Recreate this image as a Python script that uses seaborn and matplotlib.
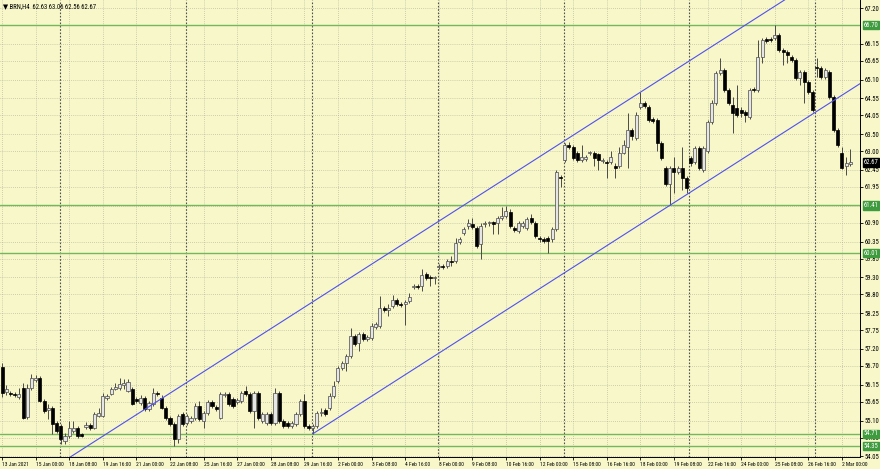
import matplotlib
matplotlib.use("Agg")
import matplotlib.pyplot as plt
import matplotlib.transforms as mtransforms
from matplotlib import font_manager
import numpy as np
import pandas as pd
import seaborn as sns

# BRN H4 candles, 13 Jan 2021 16:00 .. 2 Mar 2021
opens = [
    56.67, 55.93, 55.90, 55.88, 55.79, 56.05, 55.20, 56.05, 56.29, 56.35,
    55.67, 55.41, 55.47, 55.02, 54.94, 54.49, 54.64, 54.79, 54.88, 54.70,
    54.91, 54.96, 54.88, 55.23, 55.23, 55.76, 55.88, 56.02, 56.05, 56.14,
    55.96, 56.02, 55.73, 55.61, 55.76, 55.44, 55.58, 55.90, 55.76, 55.47,
    55.17, 54.99, 54.55, 55.29, 55.02, 55.08, 55.17, 55.52, 55.08, 55.32,
    55.64, 55.49, 55.17, 55.85, 55.88, 55.73, 55.64, 55.67, 55.96, 55.88,
    55.38, 55.90, 55.08, 55.02, 55.29, 55.02, 55.90, 55.08, 55.02, 54.94,
    54.99, 55.29, 55.67, 54.94, 54.88, 54.94, 55.32, 55.41, 55.47, 55.82,
    56.26, 56.64, 56.79, 56.99, 57.58, 57.38, 57.64, 57.49, 57.52, 57.85,
    57.88, 58.41, 58.35, 58.47, 58.64, 58.52, 58.52, 58.61, 59.02, 59.05,
    59.05, 59.41, 59.32, 59.29, 59.61, 59.64, 59.64, 59.79, 59.79, 60.35,
    60.61, 60.82, 60.85, 60.76, 60.29, 60.85, 60.88, 60.91, 60.88, 61.05,
    61.11, 61.23, 60.76, 60.67, 60.82, 60.76, 61.05, 60.88, 60.44, 60.41,
    60.44, 60.41, 60.73, 62.23, 62.73, 63.17, 63.11, 62.96, 62.73, 62.76,
    62.94, 62.96, 62.91, 62.70, 62.67, 62.67, 62.58, 62.58, 62.96, 63.11,
    63.61, 63.38, 64.29, 64.40, 64.29, 63.94, 63.91, 63.23, 62.52, 62.05,
    62.52, 62.38, 62.52, 62.20, 62.79, 62.67, 63.08, 62.44, 63.02, 63.85,
    64.40, 65.29, 65.38, 64.79, 64.35, 64.26, 64.20, 64.14, 63.99, 64.82,
    64.79, 65.76, 66.29, 66.29, 66.32, 66.41, 65.96, 65.91, 65.76, 65.67,
    65.14, 65.32, 65.02, 64.73, 65.46, 65.44, 65.17, 65.32, 64.58, 63.61,
    62.94, 62.58, 62.63,
]
highs = [
    56.79, 56.14, 55.96, 55.93, 56.05, 56.20, 56.17, 56.47, 56.44, 56.41,
    55.73, 55.58, 55.52, 55.08, 54.99, 54.73, 55.08, 55.08, 54.94, 54.73,
    55.05, 55.02, 55.35, 55.47, 55.90, 55.88, 56.08, 56.20, 56.35, 56.32,
    56.32, 56.08, 55.79, 55.85, 55.82, 55.67, 56.05, 55.96, 55.85, 55.52,
    55.23, 55.05, 55.29, 55.35, 55.29, 55.23, 55.61, 55.67, 55.38, 55.70,
    55.70, 55.55, 55.93, 55.93, 55.93, 55.79, 55.76, 55.96, 56.11, 55.93,
    55.96, 55.96, 55.35, 55.35, 55.35, 56.05, 55.96, 55.14, 55.08, 55.08,
    55.35, 55.73, 55.88, 54.99, 54.99, 55.38, 55.47, 55.47, 55.90, 56.26,
    56.70, 56.85, 57.05, 57.82, 57.64, 57.70, 57.70, 57.61, 57.96, 57.99,
    58.76, 58.47, 58.52, 58.79, 58.70, 58.58, 58.64, 58.85, 59.11, 59.11,
    59.55, 59.47, 59.38, 59.35, 59.70, 59.70, 59.85, 59.94, 60.44, 60.47,
    60.79, 61.02, 61.05, 60.82, 60.88, 60.94, 60.96, 60.96, 61.11, 61.35,
    61.38, 61.29, 60.82, 60.94, 60.94, 61.08, 61.17, 60.94, 60.50, 60.47,
    60.50, 60.79, 62.44, 62.29, 63.23, 63.26, 63.17, 63.02, 63.17, 62.88,
    63.02, 63.02, 62.96, 62.79, 62.73, 63.02, 62.64, 63.11, 63.32, 64.11,
    63.67, 64.14, 64.73, 64.46, 64.35, 64.00, 63.97, 63.29, 62.58, 62.58,
    62.82, 62.58, 63.11, 62.26, 62.85, 63.14, 63.14, 63.14, 63.91, 64.49,
    65.35, 65.73, 65.44, 64.85, 64.58, 64.94, 64.29, 64.20, 64.85, 64.88,
    66.26, 66.32, 66.35, 66.35, 66.70, 66.47, 66.02, 65.96, 65.82, 65.73,
    65.38, 65.38, 65.08, 64.79, 65.73, 65.49, 65.44, 65.38, 64.64, 63.67,
    63.11, 62.82, 63.06,
]
lows = [
    55.79, 55.85, 55.82, 55.79, 55.73, 55.14, 55.14, 55.99, 56.23, 55.64,
    55.32, 55.14, 54.70, 54.73, 54.42, 54.41, 54.58, 54.73, 54.58, 54.61,
    54.85, 54.82, 54.85, 55.20, 55.20, 55.70, 55.85, 55.99, 55.99, 56.02,
    55.93, 55.55, 55.61, 55.55, 55.38, 55.38, 55.52, 55.82, 55.44, 55.11,
    54.94, 54.35, 54.44, 54.94, 54.96, 55.02, 55.11, 55.08, 54.88, 55.26,
    55.47, 55.38, 55.14, 55.79, 55.52, 55.47, 55.58, 55.61, 55.82, 55.32,
    54.88, 55.11, 55.02, 54.96, 54.96, 54.96, 55.02, 54.88, 54.88, 54.88,
    54.94, 55.23, 54.88, 54.82, 54.71, 54.88, 55.23, 55.23, 55.41, 55.76,
    56.20, 56.58, 56.55, 56.94, 57.29, 57.14, 57.44, 57.44, 57.47, 57.79,
    57.82, 58.29, 58.17, 58.41, 58.47, 58.44, 57.91, 58.55, 58.97, 58.97,
    58.91, 59.23, 59.05, 59.11, 59.55, 59.55, 59.58, 59.64, 59.73, 60.29,
    60.55, 60.73, 60.73, 60.17, 59.85, 60.79, 60.82, 60.58, 60.58, 60.99,
    61.05, 60.76, 60.64, 60.61, 60.76, 60.70, 60.85, 60.44, 60.35, 60.32,
    60.01, 60.35, 60.67, 61.94, 62.67, 63.05, 62.73, 62.67, 62.67, 62.70,
    62.88, 62.58, 62.44, 62.64, 62.20, 62.61, 62.20, 62.52, 62.91, 62.50,
    63.32, 63.32, 64.23, 64.26, 63.85, 63.82, 63.02, 62.73, 61.99, 61.41,
    61.76, 62.32, 61.85, 61.76, 62.58, 62.61, 62.44, 62.38, 62.96, 63.79,
    64.35, 65.23, 64.73, 64.35, 63.52, 63.99, 63.99, 63.85, 63.94, 64.73,
    64.73, 65.58, 66.17, 66.20, 66.26, 65.91, 65.52, 65.58, 65.61, 65.08,
    64.94, 64.40, 64.67, 64.14, 65.17, 65.11, 65.11, 64.52, 63.55, 63.11,
    62.47, 62.29, 62.56,
]
closes = [
    55.90, 56.02, 55.88, 55.85, 55.88, 55.17, 56.05, 56.35, 56.35, 55.67,
    55.38, 55.47, 54.99, 54.79, 54.55, 54.64, 54.88, 54.88, 54.64, 54.64,
    54.96, 54.88, 55.29, 55.32, 55.82, 55.82, 56.02, 56.08, 56.17, 56.20,
    56.23, 55.58, 55.67, 55.76, 55.44, 55.61, 55.90, 55.88, 55.47, 55.17,
    54.99, 54.55, 55.23, 54.99, 55.23, 55.17, 55.52, 55.14, 55.32, 55.64,
    55.52, 55.44, 55.88, 55.88, 55.58, 55.52, 55.70, 55.90, 55.88, 55.38,
    55.90, 55.17, 55.29, 55.29, 55.02, 55.90, 55.08, 54.94, 54.94, 55.02,
    55.29, 55.67, 54.94, 54.88, 54.94, 55.32, 55.35, 55.29, 55.82, 56.11,
    56.64, 56.79, 56.99, 57.58, 57.35, 57.64, 57.49, 57.55, 57.88, 57.94,
    58.41, 58.35, 58.41, 58.64, 58.52, 58.49, 58.58, 58.73, 59.05, 59.02,
    59.38, 59.29, 59.29, 59.32, 59.64, 59.61, 59.79, 59.76, 60.32, 60.41,
    60.73, 60.88, 60.79, 60.23, 60.82, 60.88, 60.91, 60.85, 61.05, 61.11,
    61.26, 60.82, 60.70, 60.88, 60.88, 61.02, 60.91, 60.50, 60.41, 60.38,
    60.38, 60.73, 62.38, 62.20, 63.17, 63.11, 62.79, 62.73, 62.82, 62.82,
    62.96, 62.79, 62.73, 62.73, 62.64, 62.82, 62.52, 62.96, 63.17, 63.61,
    63.44, 64.05, 64.40, 64.32, 63.91, 63.88, 63.23, 62.79, 62.05, 62.50,
    62.38, 62.52, 62.20, 61.91, 62.64, 63.08, 62.50, 63.08, 63.85, 64.40,
    65.29, 65.38, 64.79, 64.40, 64.11, 64.05, 64.11, 64.05, 64.79, 64.79,
    65.76, 66.26, 66.23, 66.26, 66.41, 65.96, 65.91, 65.82, 65.67, 65.14,
    65.32, 65.02, 64.73, 64.20, 65.44, 65.17, 65.38, 64.58, 63.61, 63.17,
    62.52, 62.64, 62.67,
]

# time axis labels, one every 8 bars
time_labels = [
    "13 Jan 2021", "15 Jan 00:00", "18 Jan 08:00", "19 Jan 16:00", "21 Jan 00:00",
    "22 Jan 08:00", "25 Jan 16:00", "27 Jan 00:00", "28 Jan 08:00", "29 Jan 16:00",
    "2 Feb 00:00", "3 Feb 08:00", "4 Feb 16:00", "8 Feb 00:00", "9 Feb 08:00",
    "10 Feb 16:00", "12 Feb 00:00", "15 Feb 08:00", "16 Feb 16:00", "18 Feb 00:00",
    "19 Feb 08:00", "22 Feb 16:00", "24 Feb 00:00", "25 Feb 08:00", "26 Feb 16:00",
    "2 Mar 00:00",
]
label_bars = [8 * k for k in range(len(time_labels))]
week_start_bars = [14, 44, 74, 104, 134, 164, 194]

price_ticks = [67.20, 66.15, 65.65, 65.10, 64.55, 64.05, 63.50, 63.00, 62.45,
               61.95, 60.90, 60.35, 59.85, 59.30, 58.80, 58.25, 57.75, 57.20,
               56.70, 56.15, 55.65, 55.10, 54.60, 54.05]
levels = [66.70, 61.41, 60.01, 54.71, 54.35]

# channel: lower line through two lows, upper line parallel through a high
low_anchor_bars = [74, 159]
low_anchor_prices = [54.71, 61.41]
high_anchor_bar = 152
high_anchor_price = 64.73

header = "\u25bc BRN,H4  62.63 63.06 62.56 62.67"

BG = "#F7F7C9"
GRID = "#A8A890"
BULL = "#E6E6E6"
BEAR = "#000000"
EDGE = "#4A4A4A"
LEVEL = "#74B85C"
LEVEL_BOX = "#3E9B3E"
CHANNEL = "#5050F0"

# pick a narrow face if one is installed, the MT4 labels are very compact
installed = {f.name for f in font_manager.fontManager.ttflist}
if "Liberation Sans Narrow" in installed:
    FONT, XSIZE, YSIZE = "Liberation Sans Narrow", 4.2, 5.0
elif "Roboto Condensed" in installed:
    FONT, XSIZE, YSIZE = "Roboto Condensed", 4.0, 4.8
else:
    FONT, XSIZE, YSIZE = "Liberation Sans", 3.4, 4.3

sns.set_theme(style="ticks")
plt.rcParams["font.family"] = [FONT, "DejaVu Sans"]
plt.rcParams["axes.facecolor"] = BG
plt.rcParams["figure.facecolor"] = BG

df = pd.DataFrame({"open": opens, "high": highs, "low": lows, "close": closes})
df["bar"] = np.arange(len(df))
df["bull"] = df["close"] >= df["open"]

fig = plt.figure(figsize=(8.8, 4.69), dpi=100)
ax = fig.add_axes([0.0, 12 / 469, 860 / 880, 457 / 469])
ax.set_facecolor(BG)

# grid
for b in label_bars:
    ax.axvline(b, color=GRID, lw=0.5, ls=(0, (1, 2)), zorder=0)
for p in price_ticks + [66.70, 61.40]:
    ax.axhline(p, color=GRID, lw=0.5, ls=(0, (1, 2)), zorder=0)
for b in week_start_bars:
    ax.axvline(b - 0.3, color="#505050", lw=0.8, ls=(0, (1.5, 1.5)), zorder=0.5)

# horizontal levels
for p in levels:
    ax.axhline(p, color=LEVEL, lw=1.0, zorder=1)

# candles
ax.vlines(df["bar"], df["low"], df["high"], color=EDGE, lw=0.7, zorder=2)
body = (df["close"] - df["open"]).abs().clip(lower=0.025)
bottom = df[["open", "close"]].min(axis=1)
up = df[df["bull"]]
dn = df[~df["bull"]]
ax.bar(up["bar"], body[df["bull"]], bottom=bottom[df["bull"]], width=0.72,
       color=BULL, edgecolor=EDGE, linewidth=0.5, zorder=3)
ax.bar(dn["bar"], body[~df["bull"]], bottom=bottom[~df["bull"]], width=0.72,
       color=BEAR, edgecolor=BEAR, linewidth=0.5, zorder=3)

# channel lines
slope = (low_anchor_prices[1] - low_anchor_prices[0]) / (low_anchor_bars[1] - low_anchor_bars[0])
end_bar = 210
lower = pd.DataFrame({"bar": [low_anchor_bars[0], end_bar],
                      "price": [low_anchor_prices[0],
                                low_anchor_prices[0] + slope * (end_bar - low_anchor_bars[0])]})
upper = pd.DataFrame({"bar": [0, end_bar],
                      "price": [high_anchor_price - slope * high_anchor_bar,
                                high_anchor_price + slope * (end_bar - high_anchor_bar)]})
sns.lineplot(data=lower, x="bar", y="price", ax=ax, color=CHANNEL, lw=0.8, zorder=4)
sns.lineplot(data=upper, x="bar", y="price", ax=ax, color=CHANNEL, lw=0.8, zorder=4)

ax.set_xlim(-0.48, 204.3)
ax.set_ylim(54.03, 67.435)
ax.set_xlabel("")
ax.set_ylabel("")

# axes / ticks
ax.yaxis.tick_right()
ax.set_yticks(price_ticks)
ax.set_yticklabels([f"{p:.2f}" for p in price_ticks])
ax.set_xticks(label_bars)
ax.set_xticklabels(time_labels)
for lbl in ax.get_xticklabels():
    lbl.set_ha("left")
ax.tick_params(axis="y", labelsize=YSIZE, length=2, width=0.6, color="#000000",
               labelcolor="#000000", pad=1)
ax.tick_params(axis="x", labelsize=XSIZE, length=2, width=0.6, color="#000000",
               labelcolor="#000000", pad=1.5)
for s in ax.spines.values():
    s.set_color("#000000")
    s.set_linewidth(0.7)
ax.spines["left"].set_visible(False)
ax.spines["top"].set_visible(False)

# price tags on the right axis
trans = mtransforms.blended_transform_factory(ax.transAxes, ax.transData)
for p in levels:
    ax.text(1.004, p, f"{p:.2f}", transform=trans, fontsize=YSIZE, color="white",
            va="center", ha="left", zorder=6, clip_on=False,
            bbox=dict(boxstyle="square,pad=0.12", fc=LEVEL_BOX, ec=LEVEL_BOX))
ax.text(1.004, closes[-1], f"{closes[-1]:.2f}", transform=trans, fontsize=YSIZE,
        color="white", va="center", ha="left", zorder=6, clip_on=False,
        bbox=dict(boxstyle="square,pad=0.12", fc="#000000", ec="#000000"))

ax.text(0.004, 0.993, header, transform=ax.transAxes, fontsize=YSIZE, color="#000000",
        va="top", ha="left", zorder=7, family=[FONT, "DejaVu Sans"])

fig.savefig("out.png", dpi=100, facecolor=BG)
